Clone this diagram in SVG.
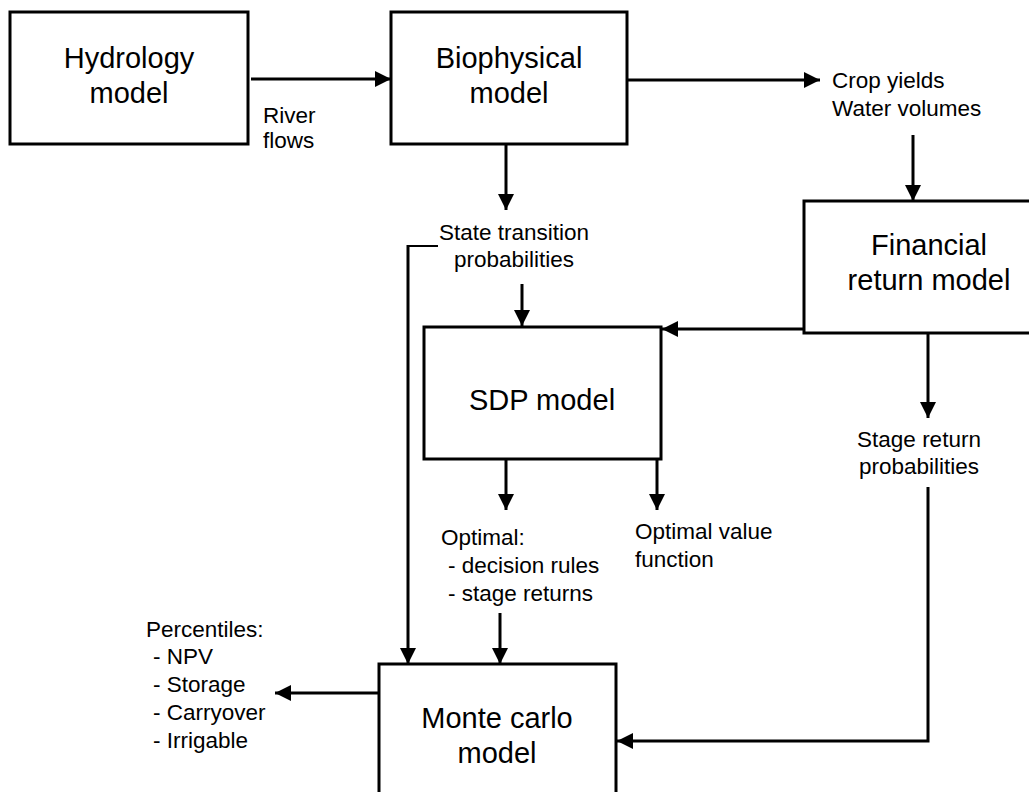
<svg xmlns="http://www.w3.org/2000/svg" width="1029" height="792" viewBox="0 0 1029 792">
<style>
.box{fill:#fff;stroke:#000;stroke-width:3}
.big{font-family:"Liberation Sans",Arial,sans-serif;font-size:29px;fill:#000;text-anchor:middle}
.sm{font-family:"Liberation Sans",Arial,sans-serif;font-size:22.5px;fill:#000}
.c{text-anchor:middle}
.ln{fill:none;stroke:#000;stroke-width:3}
.thin{fill:none;stroke:#000;stroke-width:2}
</style>
<defs>
<marker id="ah" markerUnits="userSpaceOnUse" markerWidth="17" markerHeight="17" refX="16" refY="8" orient="auto">
<path d="M0,0 L16,8 L0,16 z" fill="#000"/>
</marker>
</defs>
<rect width="1029" height="792" fill="#fff"/>
<g id="connectors">
<path class="ln" d="M251,79 H391" marker-end="url(#ah)"/>
<path class="ln" d="M628,80 H820" marker-end="url(#ah)"/>
<path class="ln" d="M913,135 V201" marker-end="url(#ah)"/>
<path class="ln" d="M506,145 V210" marker-end="url(#ah)"/>
<path class="ln" d="M522,284 V326" marker-end="url(#ah)"/>
<path class="ln" d="M804,329 H662" marker-end="url(#ah)"/>
<path class="ln" d="M928,333 V418" marker-end="url(#ah)"/>
<path class="ln" d="M506,460 V510" marker-end="url(#ah)"/>
<path class="ln" d="M657,460 V510" marker-end="url(#ah)"/>
<path class="thin" d="M438,246 H408"/>
<path class="ln" d="M408,245 V664" marker-end="url(#ah)"/>
<path class="ln" d="M500,613 V664" marker-end="url(#ah)"/>
<path class="ln" d="M379,693 H275" marker-end="url(#ah)"/>
<path class="ln" d="M928,487 V741 H617" marker-end="url(#ah)"/>
</g>
<g id="hydrology">
<rect class="box" x="10" y="12" width="238" height="132"/>
<text class="big" x="129" y="68">Hydrology</text>
<text class="big" x="129" y="103">model</text>
</g>
<g id="biophysical">
<rect class="box" x="391" y="12" width="236" height="132"/>
<text class="big" x="509" y="68">Biophysical</text>
<text class="big" x="509" y="103">model</text>
</g>
<g id="financial">
<rect class="box" x="804" y="201" width="250" height="132"/>
<text class="big" x="929" y="255">Financial</text>
<text class="big" x="929" y="290">return model</text>
</g>
<g id="sdp">
<rect class="box" x="424" y="327" width="237" height="132"/>
<text class="big" x="542" y="410">SDP model</text>
</g>
<g id="montecarlo">
<rect class="box" x="379" y="664" width="237" height="140"/>
<text class="big" x="497" y="728">Monte carlo</text>
<text class="big" x="497" y="763">model</text>
</g>
<g id="labels">
<text class="sm" x="263" y="123">River</text>
<text class="sm" x="263" y="148">flows</text>
<text class="sm" x="832" y="88">Crop yields</text>
<text class="sm" x="832" y="116">Water volumes</text>
<text class="sm c" x="514" y="240">State transition</text>
<text class="sm c" x="514" y="267">probabilities</text>
<text class="sm c" x="919" y="447">Stage return</text>
<text class="sm c" x="919" y="474">probabilities</text>
<text class="sm" x="441" y="545">Optimal:</text>
<text class="sm" x="448" y="573">- decision rules</text>
<text class="sm" x="448" y="601">- stage returns</text>
<text class="sm" x="635" y="539">Optimal value</text>
<text class="sm" x="635" y="567">function</text>
<text class="sm" x="146" y="637">Percentiles:</text>
<text class="sm" x="153" y="664">- NPV</text>
<text class="sm" x="153" y="692">- Storage</text>
<text class="sm" x="153" y="720">- Carryover</text>
<text class="sm" x="153" y="748">- Irrigable</text>
</g>
</svg>
